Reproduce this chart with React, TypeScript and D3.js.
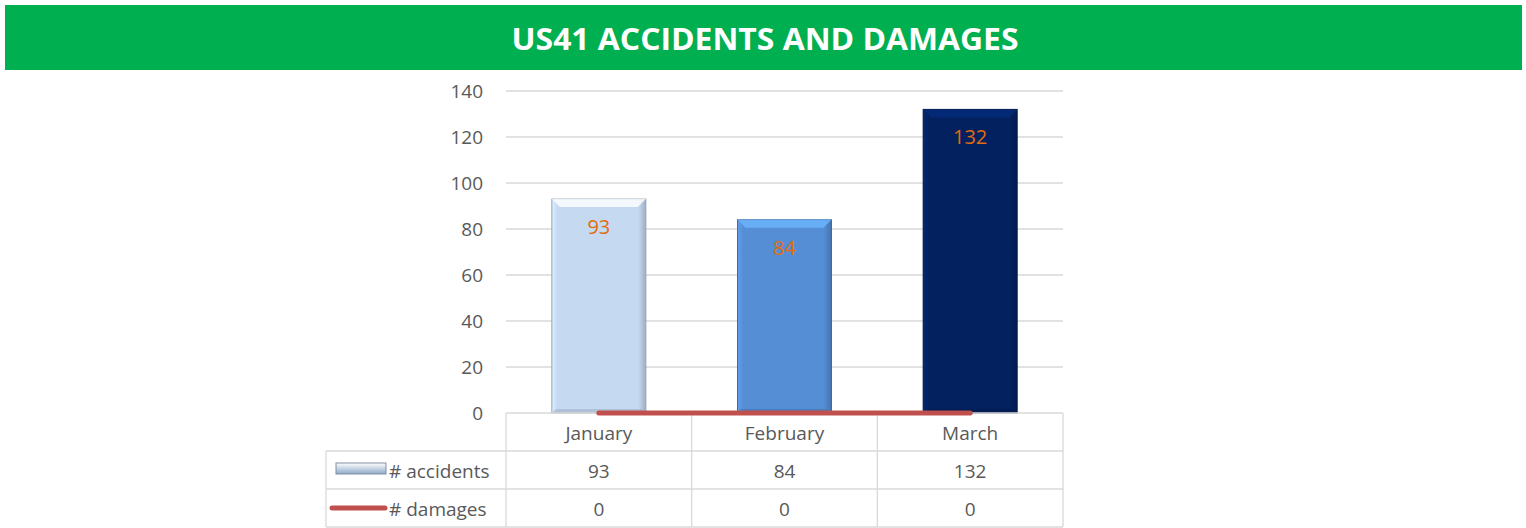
import { useRef, useEffect } from "react";
import * as d3 from "d3";

const months = ["January", "February", "March"];
const accidents = [93, 84, 132];
const damages = [0, 0, 0];
const yTicks = [0, 20, 40, 60, 80, 100, 120, 140];
const barColors = ["#c5d9f1", "#558ed5", "#03215f"];
const seriesNames = ["# accidents", "# damages"];

const W = 1526;
const H = 528;

export default function App() {
  const svgRef = useRef<SVGSVGElement>(null);

  useEffect(() => {
    if (!svgRef.current) return;
    const svg = d3.select(svgRef.current);
    svg.selectAll("*").remove();

    const font = "'Open Sans', 'Noto Sans', sans-serif";
    const grid = "#d9d9d9";
    const text = "#595959";

    // banner
    svg.append("rect").attr("x", 5).attr("y", 5).attr("width", 1517).attr("height", 65).attr("fill", "#00b050");
    svg.append("text")
      .attr("x", 765).attr("y", 50)
      .attr("text-anchor", "middle")
      .attr("fill", "#fff")
      .attr("font-family", font)
      .attr("font-weight", 700)
      .attr("font-size", 30)
      .attr("textLength", 507)
      .attr("lengthAdjust", "spacingAndGlyphs")
      .text("US41 ACCIDENTS AND DAMAGES");

    const left = 506, right = 1063, top = 91, bottom = 413;
    const x = d3.scaleBand<string>().domain(months).range([left, right]).paddingInner(0).paddingOuter(0);
    const y = d3.scaleLinear().domain([0, 140]).range([bottom, top]);

    const defs = svg.append("defs");
    barColors.forEach((c, i) => {
      const g = defs.append("linearGradient").attr("id", `bg${i}`).attr("x1", 0).attr("x2", 1).attr("y1", 0).attr("y2", 0);
      const base = d3.color(c)!;
      g.append("stop").attr("offset", "0%").attr("stop-color", base.brighter(0.3).toString());
      g.append("stop").attr("offset", "6%").attr("stop-color", c);
      g.append("stop").attr("offset", "92%").attr("stop-color", c);
      g.append("stop").attr("offset", "100%").attr("stop-color", base.darker(0.6).toString());
    });

    // gridlines
    svg.append("g").selectAll("line").data(yTicks.filter((t) => t > 0)).join("line")
      .attr("x1", left).attr("x2", right)
      .attr("y1", (d) => y(d)).attr("y2", (d) => y(d))
      .attr("stroke", grid).attr("stroke-width", 1.3);

    // y labels
    svg.append("g").selectAll("text").data(yTicks).join("text")
      .attr("x", 483).attr("y", (d) => y(d) + 7)
      .attr("text-anchor", "end")
      .attr("fill", text).attr("font-family", font).attr("font-size", 19)
      .text((d) => d);

    // bars
    const bw = 94;
    const bars = svg.append("g");
    months.forEach((m, i) => {
      const bx = x(m)! + x.bandwidth() / 2 - bw / 2;
      const by = y(accidents[i]);
      const bh = bottom - by;
      const base = d3.color(barColors[i])!;
      bars.append("rect")
        .attr("x", bx).attr("y", by).attr("width", bw).attr("height", bh)
        .attr("fill", `url(#bg${i})`)
        .attr("stroke", base.darker(0.8).toString()).attr("stroke-width", 1);
      const bev = 8;
      bars.append("path")
        .attr("d", `M${bx},${by}L${bx + bw},${by}L${bx + bw - bev},${by + bev}L${bx + bev},${by + bev}Z`)
        .attr("fill", base.brighter(0.7).toString()).attr("opacity", 0.8);
      bars.append("path")
        .attr("d", `M${bx},${by + bh}L${bx + bw},${by + bh}L${bx + bw - 4},${by + bh - 4}L${bx + 4},${by + bh - 4}Z`)
        .attr("fill", base.darker(0.5).toString()).attr("opacity", 0.7);
      bars.append("text")
        .attr("x", bx + bw / 2).attr("y", by + 35)
        .attr("text-anchor", "middle")
        .attr("fill", "#e46c0a").attr("font-family", font).attr("font-size", 20)
        .text(accidents[i]);
    });

    // table
    const rowH = 38;
    const tLeft = 326;
    const tab = svg.append("g").attr("stroke", grid).attr("stroke-width", 1.3);
    tab.append("line").attr("x1", left).attr("x2", right).attr("y1", bottom).attr("y2", bottom);
    [1, 2, 3].forEach((r) => {
      tab.append("line").attr("x1", tLeft).attr("x2", right).attr("y1", bottom + r * rowH).attr("y2", bottom + r * rowH);
    });
    tab.append("line").attr("x1", tLeft).attr("x2", tLeft).attr("y1", bottom + rowH).attr("y2", bottom + 3 * rowH);
    [left, ...months.map((m) => x(m)! + x.bandwidth())].forEach((vx) => {
      tab.append("line").attr("x1", vx).attr("x2", vx).attr("y1", bottom).attr("y2", bottom + 3 * rowH);
    });

    const cell = svg.append("g").attr("font-family", font).attr("font-size", 19).attr("fill", text).attr("text-anchor", "middle");
    months.forEach((m, i) => {
      const cx = x(m)! + x.bandwidth() / 2;
      cell.append("text").attr("x", cx).attr("y", bottom + 27).text(m);
      cell.append("text").attr("x", cx).attr("y", bottom + rowH + 27).text(accidents[i]);
      cell.append("text").attr("x", cx).attr("y", bottom + 2 * rowH + 27).text(damages[i]);
    });
    seriesNames.forEach((s, i) => {
      cell.append("text").attr("x", 389).attr("y", bottom + (i + 1) * rowH + 27).attr("text-anchor", "start").text(s);
    });

    // legend keys
    const kg = defs.append("linearGradient").attr("id", "kg").attr("x1", 0).attr("x2", 0).attr("y1", 0).attr("y2", 1);
    kg.append("stop").attr("offset", "0%").attr("stop-color", "#ffffff");
    kg.append("stop").attr("offset", "100%").attr("stop-color", "#8ea9c8");
    svg.append("rect").attr("x", 336).attr("y", 463).attr("width", 50).attr("height", 11)
      .attr("fill", "url(#kg)").attr("stroke", "#7f8fa6").attr("stroke-width", 1);
    svg.append("line").attr("x1", 332).attr("x2", 385).attr("y1", 508).attr("y2", 508)
      .attr("stroke", "#c0504d").attr("stroke-width", 5).attr("stroke-linecap", "round");

    // damages line
    const line = d3.line<number>()
      .x((_, i) => x(months[i])! + x.bandwidth() / 2)
      .y((d) => y(d));
    svg.append("path").datum(damages).attr("d", line)
      .attr("fill", "none").attr("stroke", "#c0504d").attr("stroke-width", 5).attr("stroke-linecap", "round");
  }, []);

  return <svg ref={svgRef} width={W} height={H} style={{ position: "absolute", left: 0, top: 0 }} />;
}
